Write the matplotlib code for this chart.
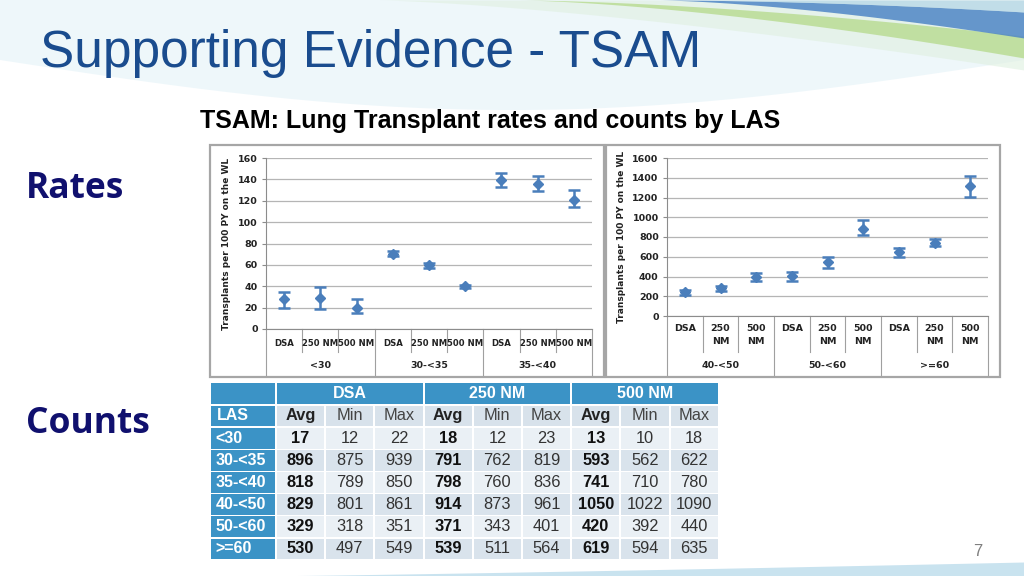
import numpy as np
import matplotlib.pyplot as plt
from matplotlib.patches import Rectangle
from matplotlib.transforms import blended_transform_factory

# ---------------- data ----------------
methods = ['DSA', '250 NM', '500 NM']
methods_right = ['DSA', '250\nNM', '500\nNM']
groups_left = ['<30', '30-<35', '35-<40']
groups_right = ['40-<50', '50-<60', '>=60']

rate_left = [28, 29, 20, 70.5, 59.5, 40, 139, 136, 121]
rate_left_lo = [20, 19, 15, 68, 57, 38.5, 133, 129.5, 114.5]
rate_left_hi = [35, 39, 28, 73, 62, 41.5, 146, 143, 130]

rate_right = [240, 283, 395, 405, 547, 881, 648, 743, 1316]
rate_right_lo = [216, 256, 354, 351, 486, 824, 594, 705, 1208]
rate_right_hi = [263, 307, 439, 446, 601, 972, 692, 776, 1421]

las = ['<30', '30-<35', '35-<40', '40-<50', '50-<60', '>=60']
dsa_avg = [17, 896, 818, 829, 329, 530]
dsa_min = [12, 875, 789, 801, 318, 497]
dsa_max = [22, 939, 850, 861, 351, 549]
nm250_avg = [18, 791, 798, 914, 371, 539]
nm250_min = [12, 762, 760, 873, 343, 511]
nm250_max = [23, 819, 836, 961, 401, 564]
nm500_avg = [13, 593, 741, 1050, 420, 619]
nm500_min = [10, 562, 710, 1022, 392, 594]
nm500_max = [18, 622, 780, 1090, 440, 635]
table_groups = ['DSA', '250 NM', '500 NM']
stat_labels = ['Avg', 'Min', 'Max']

# ---------------- figure ----------------
W, H = 1024, 576
fig = plt.figure(figsize=(W / 100, H / 100), dpi=100)
fig.patch.set_facecolor('white')


def px_axes(x0, y0, x1, y1, **kw):
    return fig.add_axes([x0 / W, 1 - y1 / H, (x1 - x0) / W, (y1 - y0) / H], **kw)


# background decoration
bg = px_axes(0, 0, W, H)
bg.set_xlim(0, W)
bg.set_ylim(H, 0)
bg.axis('off')
bg.set_zorder(-10)
x = np.linspace(0, W, 400)
wash = 60 + 50 * np.sin(np.clip(x / W, 0, 1) * np.pi)
bg.fill_between(x, 0, wash, color='#cfe9f3', alpha=0.35, lw=0)
xs = np.linspace(380, W, 300)
t = (xs - 380) / (W - 380)
yg = 70 * t ** 1.4
bg.fill_between(xs, 0, yg, color='#dff0e0', alpha=0.6, lw=0)
xs2 = np.linspace(520, W, 300)
t2 = (xs2 - 520) / (W - 520)
bg.fill_between(xs2, 36 * t2 ** 1.6, 58 * t2 ** 1.5, color='#9ccd5a', alpha=0.5, lw=0)
xs3 = np.linspace(660, W, 300)
t3 = (xs3 - 660) / (W - 660)
bg.fill_between(xs3, 12 * t3 ** 1.8, 38 * t3 ** 1.5, color='#4f86c6', alpha=0.85, lw=0)
bg.fill_between(xs3, 0, 12 * t3 ** 1.8, color='#a9cfe8', alpha=0.6, lw=0)
xb = np.linspace(250, W, 300)
tb = (xb - 250) / (W - 250)
bg.fill_between(xb, H - 14 * tb ** 1.2, H, color='#bcdcec', alpha=0.8, lw=0)

# panels
for (x0, y0, x1, y1) in [(210, 145, 604, 377), (606, 145, 1000, 377)]:
    bg.add_patch(Rectangle((x0, y0), x1 - x0, y1 - y0, facecolor='white',
                           edgecolor='#a6a6a6', lw=1.6))

# titles
fig.text(40 / W, 1 - 53 / H, 'Supporting Evidence - TSAM', fontsize=37,
         family='Liberation Sans', color='#1a4c8e', va='center', ha='left')
fig.text(200 / W, 1 - 121 / H, 'TSAM: Lung Transplant rates and counts by LAS',
         fontsize=18, family='Liberation Sans', weight='bold', color='black',
         va='center', ha='left')
fig.text(26 / W, 1 - 189 / H, 'Rates', fontsize=25.5, family='Open Sans',
         weight='bold', color='#10106e', va='center', ha='left')
fig.text(26 / W, 1 - 424 / H, 'Counts', fontsize=25.5, family='Open Sans',
         weight='bold', color='#10106e', va='center', ha='left')
fig.text(978 / W, 1 - 551 / H, '7', fontsize=12, family='Liberation Sans',
         color='#7f7f7f', va='center', ha='center')

mcol = '#4a7ebb'


def rate_chart(box, vals, lo, hi, ymax, ystep, sub_labels, grp_labels,
               sub_y, sub_va, grp_y, sub_line, grp_line, ylab_x, sub_fs):
    ax = px_axes(*box)
    n = len(vals)
    xi = np.arange(n)
    v = np.array(vals)
    ax.errorbar(xi, v, yerr=[v - np.array(lo), np.array(hi) - v], fmt='D',
                color=mcol, ms=5, capsize=4, elinewidth=1.8, capthick=1.8,
                zorder=3)
    ax.set_xlim(-0.5, n - 0.5)
    ax.set_ylim(0, ymax)
    ax.set_yticks(np.arange(0, ymax + 1, ystep))
    ax.grid(axis='y', color='#b5b5b5', lw=0.9)
    ax.set_axisbelow(True)
    for s in ['top', 'right']:
        ax.spines[s].set_visible(False)
    for s in ['left', 'bottom']:
        ax.spines[s].set_color('#8c8c8c')
    ax.set_xticks([])
    ax.tick_params(axis='y', labelsize=6.8, length=3, color='#8c8c8c',
                   colors='#222222', pad=3)
    for lab in ax.get_yticklabels():
        lab.set_fontweight('bold')
    ax.set_ylabel('Transplants per 100 PY on the WL', fontsize=6.5,
                  fontweight='bold', color='#222222')
    ax.yaxis.set_label_coords(ylab_x, 0.5)
    tr = blended_transform_factory(ax.transData, ax.transAxes)
    labs = [s for _ in grp_labels for s in sub_labels]
    for i, s in enumerate(labs):
        ax.text(i, sub_y, s, transform=tr, ha='center', va=sub_va,
                fontsize=sub_fs, fontweight='bold', color='#222222',
                linespacing=1.5)
    for g, gl in enumerate(grp_labels):
        ax.text(g * 3 + 1, grp_y, gl, transform=tr, ha='center', va='center',
                fontsize=6.8, fontweight='bold', color='#222222')
    for b in np.arange(-0.5, n, 1.0):
        is_grp = (round(b + 0.5) % 3 == 0)
        ax.plot([b, b], [0, grp_line if is_grp else sub_line], transform=tr,
                color='#a0a0a0', lw=0.8, clip_on=False)
    return ax


rate_chart((266, 158, 592, 329), rate_left, rate_left_lo, rate_left_hi,
           160, 20, methods, groups_left,
           (329 - 344) / 171, 'center', (329 - 365) / 171,
           (329 - 352) / 171, (329 - 375) / 171, -0.107, 6.1)
rate_chart((667, 158, 988, 316), rate_right, rate_right_lo, rate_right_hi,
           1600, 200, methods_right, groups_right,
           (316 - 324) / 158, 'top', (316 - 365) / 158,
           (316 - 352) / 158, (316 - 375) / 158, -0.128, 6.8)

# ---------------- table ----------------
tax = px_axes(208, 382, 720, 562)
tax.set_xlim(208, 720)
tax.set_ylim(562, 382)
tax.axis('off')
blue = '#3b93c6'
hdr2 = '#d8e2eb'
rowc = ['#eaf0f5', '#d9e3ec']
las_x0, las_x1 = 210.5, 275
col_w = 49.2
gap = 2
row_tops = [383, 405.5, 428, 450, 472, 494, 516, 538.5]
row_h = 20.5
fs = 11.8

cols = [dsa_avg, dsa_min, dsa_max, nm250_avg, nm250_min, nm250_max,
        nm500_avg, nm500_min, nm500_max]


def cell(x0, x1, y0, color):
    tax.add_patch(Rectangle((x0, y0), x1 - x0, row_h, facecolor=color,
                            edgecolor='none'))


# header row 1
cell(las_x0, las_x1, row_tops[0], blue)
for g, name in enumerate(table_groups):
    gx0 = las_x1 + gap + g * 3 * col_w
    gx1 = gx0 + 3 * col_w - gap
    cell(gx0, gx1, row_tops[0], blue)
    tax.text((gx0 + gx1) / 2, row_tops[0] + row_h / 2, name, ha='center',
             va='center', color='white', fontsize=11.5, fontweight='bold',
             family='Liberation Sans')
# header row 2
cell(las_x0, las_x1, row_tops[1], blue)
tax.text(las_x0 + 6, row_tops[1] + row_h / 2, 'LAS', ha='left', va='center',
         color='white', fontsize=11.5, fontweight='bold', family='Liberation Sans')
for c in range(9):
    cx0 = las_x1 + gap + c * col_w
    cx1 = cx0 + col_w - gap
    cell(cx0, cx1, row_tops[1], hdr2)
    st = stat_labels[c % 3]
    tax.text((cx0 + cx1) / 2, row_tops[1] + row_h / 2, st, ha='center',
             va='center', color='#222222' if c % 3 == 0 else '#444444',
             fontsize=fs, fontweight='bold' if c % 3 == 0 else 'normal',
             family='Liberation Sans')
# data rows
for r, lab in enumerate(las):
    y0 = row_tops[r + 2]
    cell(las_x0, las_x1, y0, blue)
    tax.text(las_x0 + 5, y0 + row_h / 2, lab, ha='left', va='center',
             color='white', fontsize=11.5, fontweight='bold',
             family='Liberation Sans')
    for c in range(9):
        cx0 = las_x1 + gap + c * col_w
        cx1 = cx0 + col_w - gap
        cell(cx0, cx1, y0, rowc[r % 2])
        tax.text((cx0 + cx1) / 2, y0 + row_h / 2, str(cols[c][r]),
                 ha='center', va='center',
                 color='#111111' if c % 3 == 0 else '#333333', fontsize=fs,
                 fontweight='bold' if c % 3 == 0 else 'normal',
                 family='Liberation Sans')

fig.savefig('out.png', dpi=100)
